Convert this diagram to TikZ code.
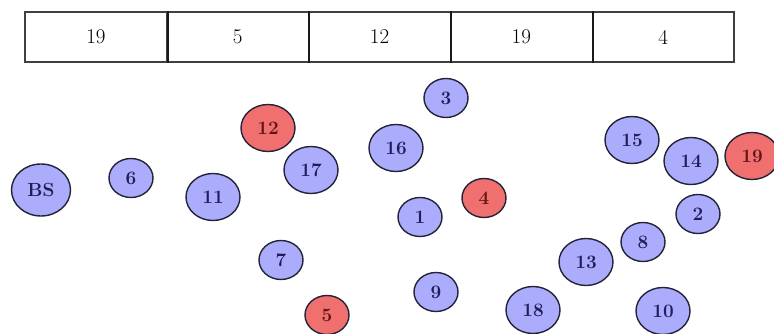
\documentclass[tikz,border=0pt]{standalone}
\usetikzlibrary{shapes.geometric}
\definecolor{nodeblue}{RGB}{172,172,252}
\definecolor{nodered}{RGB}{240,112,112}
\definecolor{edgedark}{RGB}{35,35,55}
\definecolor{txtblue}{RGB}{30,30,90}
\definecolor{txtred}{RGB}{100,20,20}
\tikzset{
  cell/.style={draw=black!75, line width=1.4pt, minimum width=141.8pt, minimum height=50pt, inner sep=0pt, font=\fontsize{21}{24}\selectfont},
  divider/.style={draw=black!90, line width=2pt},
  sens/.style={ellipse, draw=edgedark, line width=1.4pt, inner sep=0pt, font=\fontsize{19}{22}\selectfont\bfseries},
  bluen/.style={sens, fill=nodeblue, text=txtblue},
  redn/.style={sens, fill=nodered, text=txtred},
  sz1/.style={minimum width=44pt, minimum height=39pt},
  sz2/.style={minimum width=54pt, minimum height=47pt},
  sz3/.style={minimum width=59pt, minimum height=52pt}
}
\begin{document}
\begin{tikzpicture}[x=1pt,y=-1pt]
\useasboundingbox (0,0) rectangle (774,334);
% top array
\node[cell] (c1) at (95.9,37) {19};
\node[cell] (c2) at (237.7,37) {5};
\node[cell] (c3) at (379.5,37) {12};
\node[cell] (c4) at (521.3,37) {19};
\node[cell] (c5) at (663.1,37) {4};
\draw[divider] (c1.north east) -- (c1.south east);
\draw[divider] (c2.north east) -- (c2.south east);
\draw[divider] (c3.north east) -- (c3.south east);
\draw[divider] (c4.north east) -- (c4.south east);
% nodes
\node[bluen,sz3] (bs) at (41,190) {BS};
\node[bluen,sz1] (n6) at (131,178) {6};
\node[bluen,sz2] (n11) at (213,197) {11};
\node[redn,sz2] (n12) at (268,128) {12};
\node[bluen,sz2] (n17) at (311,170) {17};
\node[bluen,sz1] (n7) at (281,260) {7};
\node[redn,sz1] (n5) at (327,315) {5};
\node[bluen,sz1] (n3) at (446,98) {3};
\node[bluen,sz2] (n16) at (396,148) {16};
\node[redn,sz1] (n4) at (484,198) {4};
\node[bluen,sz1] (n1) at (420,217) {1};
\node[bluen,sz1] (n9) at (436,292) {9};
\node[bluen,sz2] (n18) at (533,310) {18};
\node[bluen,sz2] (n13) at (586,262) {13};
\node[bluen,sz1] (n8) at (643,242) {8};
\node[bluen,sz1] (n2) at (698,214) {2};
\node[bluen,sz2] (n15) at (632,140) {15};
\node[bluen,sz2] (n14) at (691,161) {14};
\node[redn,sz2] (n19) at (752,156) {19};
\node[bluen,sz2] (n10) at (663,311) {10};
\end{tikzpicture}
\end{document}
